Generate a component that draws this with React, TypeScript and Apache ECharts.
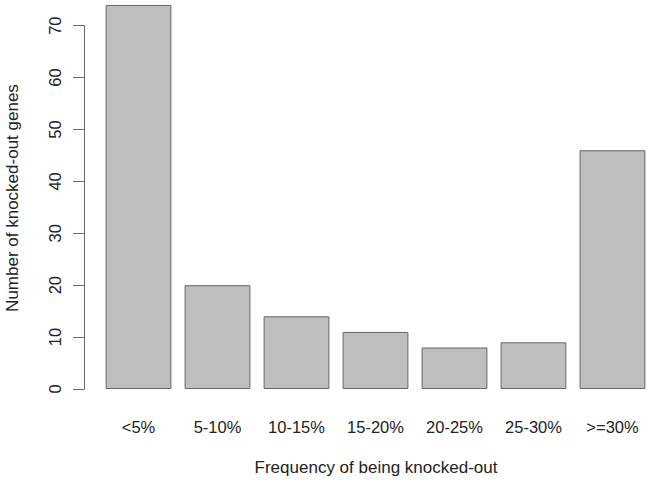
import React, { useEffect, useRef } from "react";
import * as echarts from "echarts";

const categories = ["<5%", "5-10%", "10-15%", "15-20%", "20-25%", "25-30%", ">=30%"];
const counts = [74, 20, 14, 11, 8, 9, 46];
const yTicks = [0, 10, 20, 30, 40, 50, 60, 70];

const FONT = "Liberation Sans, Arial, sans-serif";
const TEXT = "#222";
const LINE = "#666";

export default function App() {
  const ref = useRef<HTMLDivElement>(null);
  useEffect(() => {
    if (!ref.current) return;
    const chart = echarts.init(ref.current, undefined, { renderer: "svg" });
    chart.setOption({
      animation: false,
      backgroundColor: "#fff",
      grid: { left: 99, right: 0, top: 25.7, bottom: 94, containLabel: false },
      xAxis: {
        type: "category",
        data: categories,
        axisLine: { show: false },
        axisTick: { show: false },
        axisLabel: { fontFamily: FONT, fontSize: 16.5, color: TEXT, margin: 29 },
      },
      yAxis: {
        type: "value",
        min: 0,
        max: 70,
        interval: 10,
        offset: 15,
        splitLine: { show: false },
        axisLine: { show: true, lineStyle: { color: LINE, width: 1 } },
        axisTick: { show: true, length: 11, lineStyle: { color: LINE, width: 1 }, customValues: yTicks },
        axisLabel: {
          rotate: 90,
          fontFamily: FONT,
          fontSize: 16.5,
          color: TEXT,
          margin: 21,
          customValues: yTicks,
        },
      },
      series: [
        {
          type: "bar",
          data: counts,
          clip: false,
          barCategoryGap: "16.7%",
          itemStyle: { color: "#bebebe", borderColor: LINE, borderWidth: 1 },
        },
      ],
      graphic: [
        {
          type: "text",
          x: 376,
          y: 467,
          style: {
            text: "Frequency of being knocked-out",
            fontFamily: FONT,
            fontSize: 17,
            fill: TEXT,
            align: "center",
            verticalAlign: "middle",
          },
        },
        {
          type: "text",
          x: 12,
          y: 198,
          rotation: Math.PI / 2,
          style: {
            text: "Number of knocked-out genes",
            fontFamily: FONT,
            fontSize: 17,
            fill: TEXT,
            align: "center",
            verticalAlign: "middle",
          },
        },
      ],
    });
    return () => chart.dispose();
  }, []);
  return <div ref={ref} style={{ width: 652, height: 483, position: "fixed", left: 0, top: 0 }} />;
}
